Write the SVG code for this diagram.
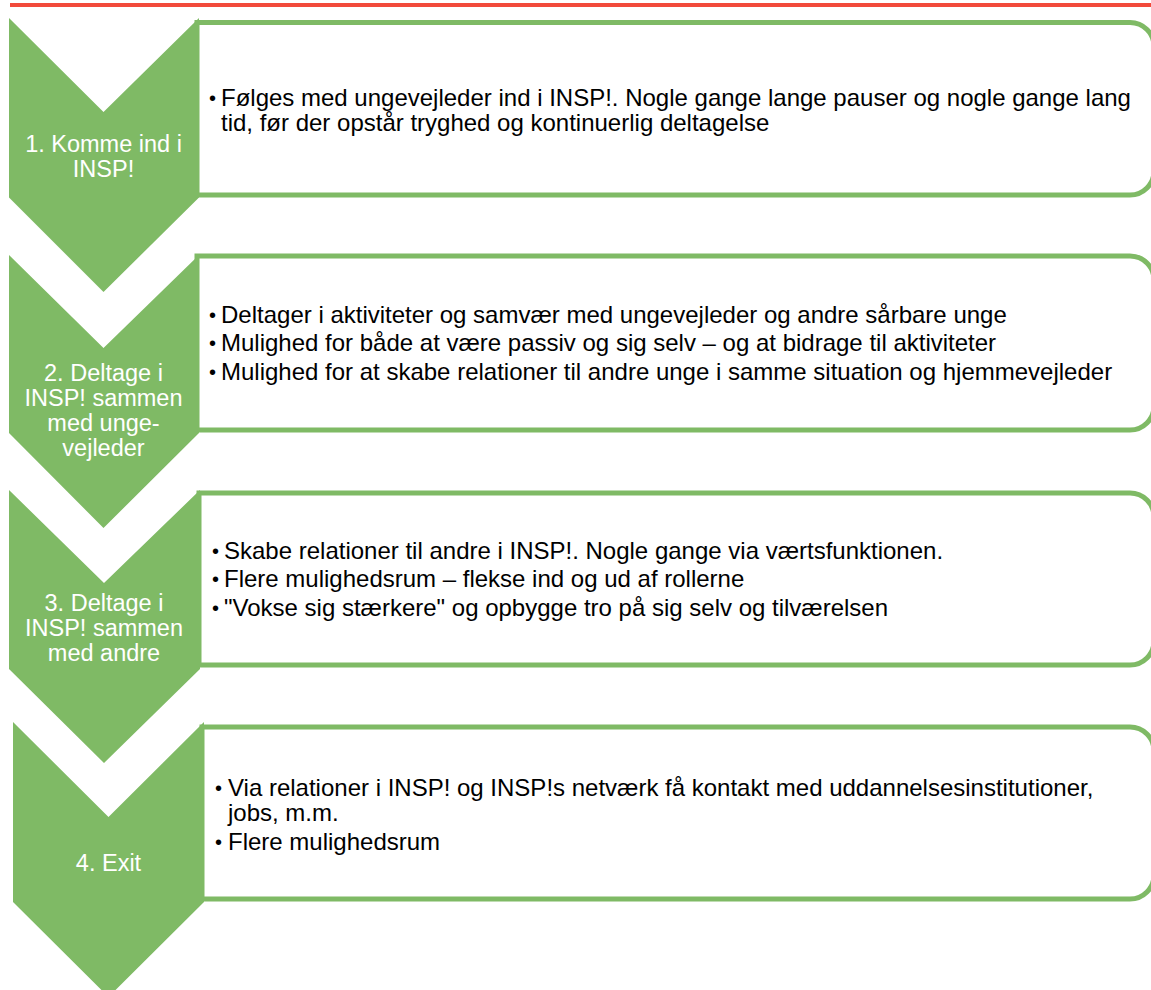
<svg xmlns="http://www.w3.org/2000/svg" width="1151" height="990" viewBox="0 0 1151 990">
<style>
.box{fill:#ffffff;stroke:#7fba65;stroke-width:5}
.chev{fill:#7fba65}
.lab{font-family:"Liberation Sans",Arial,sans-serif;font-size:23.5px;fill:#ffffff;text-anchor:middle}
.txt{font-family:"Liberation Sans",Arial,sans-serif;font-size:24px;fill:#000000}
.bul{font-family:"Liberation Sans",Arial,sans-serif;font-size:20px;fill:#000000}
</style>
<rect width="1151" height="990" fill="#ffffff"/>
<line x1="10" y1="5" x2="1151" y2="5" stroke="#f24a3b" stroke-width="4"/>
<g id="connectors"></g>
<g id="step1">
<path class="box" d="M197,22.5 H1130 A24,24 0 0 1 1154,46.5 V171 A24,24 0 0 1 1130,195 H197 Z"/>
<polygon class="chev" points="9,18 103.5,112 199,18 199,197.5 103.5,292 9,197.5"/>
<text class="lab" x="103.5" y="152">1. Komme ind i</text>
<text class="lab" x="103.5" y="177">INSP!</text>
<text class="bul" x="209" y="105">•</text>
<text class="txt" x="221" y="106">Følges med ungevejleder ind i INSP!. Nogle gange lange pauser og nogle gange lang</text>
<text class="txt" x="221" y="131">tid, før der opstår tryghed og kontinuerlig deltagelse</text>
</g>
<g id="step2">
<path class="box" d="M197,256 H1130 A24,24 0 0 1 1154,280 V406 A24,24 0 0 1 1130,430 H197 Z"/>
<polygon class="chev" points="9,255 103.5,348 199,255 199,433 103.5,528 9,433"/>
<text class="lab" x="103.5" y="381">2. Deltage i</text>
<text class="lab" x="103.5" y="406">INSP! sammen</text>
<text class="lab" x="103.5" y="431">med unge-</text>
<text class="lab" x="103.5" y="456">vejleder</text>
<text class="bul" x="209" y="321.5">•</text>
<text class="txt" x="221" y="322.5">Deltager i aktiviteter og samvær med ungevejleder og andre sårbare unge</text>
<text class="bul" x="209" y="349.5">•</text>
<text class="txt" x="221" y="350.5">Mulighed for både at være passiv og sig selv – og at bidrage til aktiviteter</text>
<text class="bul" x="209" y="378.5">•</text>
<text class="txt" x="221" y="379.5">Mulighed for at skabe relationer til andre unge i samme situation og hjemmevejleder</text>
</g>
<g id="step3">
<path class="box" d="M199,493 H1130 A24,24 0 0 1 1154,517 V641 A24,24 0 0 1 1130,665 H199 Z"/>
<polygon class="chev" points="9,490 104,583 200,490 200,669 104,763 9,669"/>
<text class="lab" x="104" y="611">3. Deltage i</text>
<text class="lab" x="104" y="636">INSP! sammen</text>
<text class="lab" x="104" y="661">med andre</text>
<text class="bul" x="212" y="557.5">•</text>
<text class="txt" x="224" y="558.5">Skabe relationer til andre i INSP!. Nogle gange via værtsfunktionen.</text>
<text class="bul" x="212" y="585.5">•</text>
<text class="txt" x="224" y="586.5">Flere mulighedsrum – flekse ind og ud af rollerne</text>
<text class="bul" x="212" y="614.5">•</text>
<text class="txt" x="224" y="615.5">"Vokse sig stærkere" og opbygge tro på sig selv og tilværelsen</text>
</g>
<g id="step4">
<path class="box" d="M202,727 H1130 A24,24 0 0 1 1154,751 V875 A24,24 0 0 1 1130,899 H202 Z"/>
<polygon class="chev" points="13,722 108.5,817 204,722 204,902 108.5,997 13,902"/>
<text class="lab" x="108.5" y="871">4. Exit</text>
<text class="bul" x="215" y="794.5">•</text>
<text class="txt" x="228" y="795.5">Via relationer i INSP! og INSP!s netværk få kontakt med uddannelsesinstitutioner,</text>
<text class="txt" x="228" y="820.5">jobs, m.m.</text>
<text class="bul" x="215" y="848.5">•</text>
<text class="txt" x="228" y="849.5">Flere mulighedsrum</text>
</g>
</svg>
